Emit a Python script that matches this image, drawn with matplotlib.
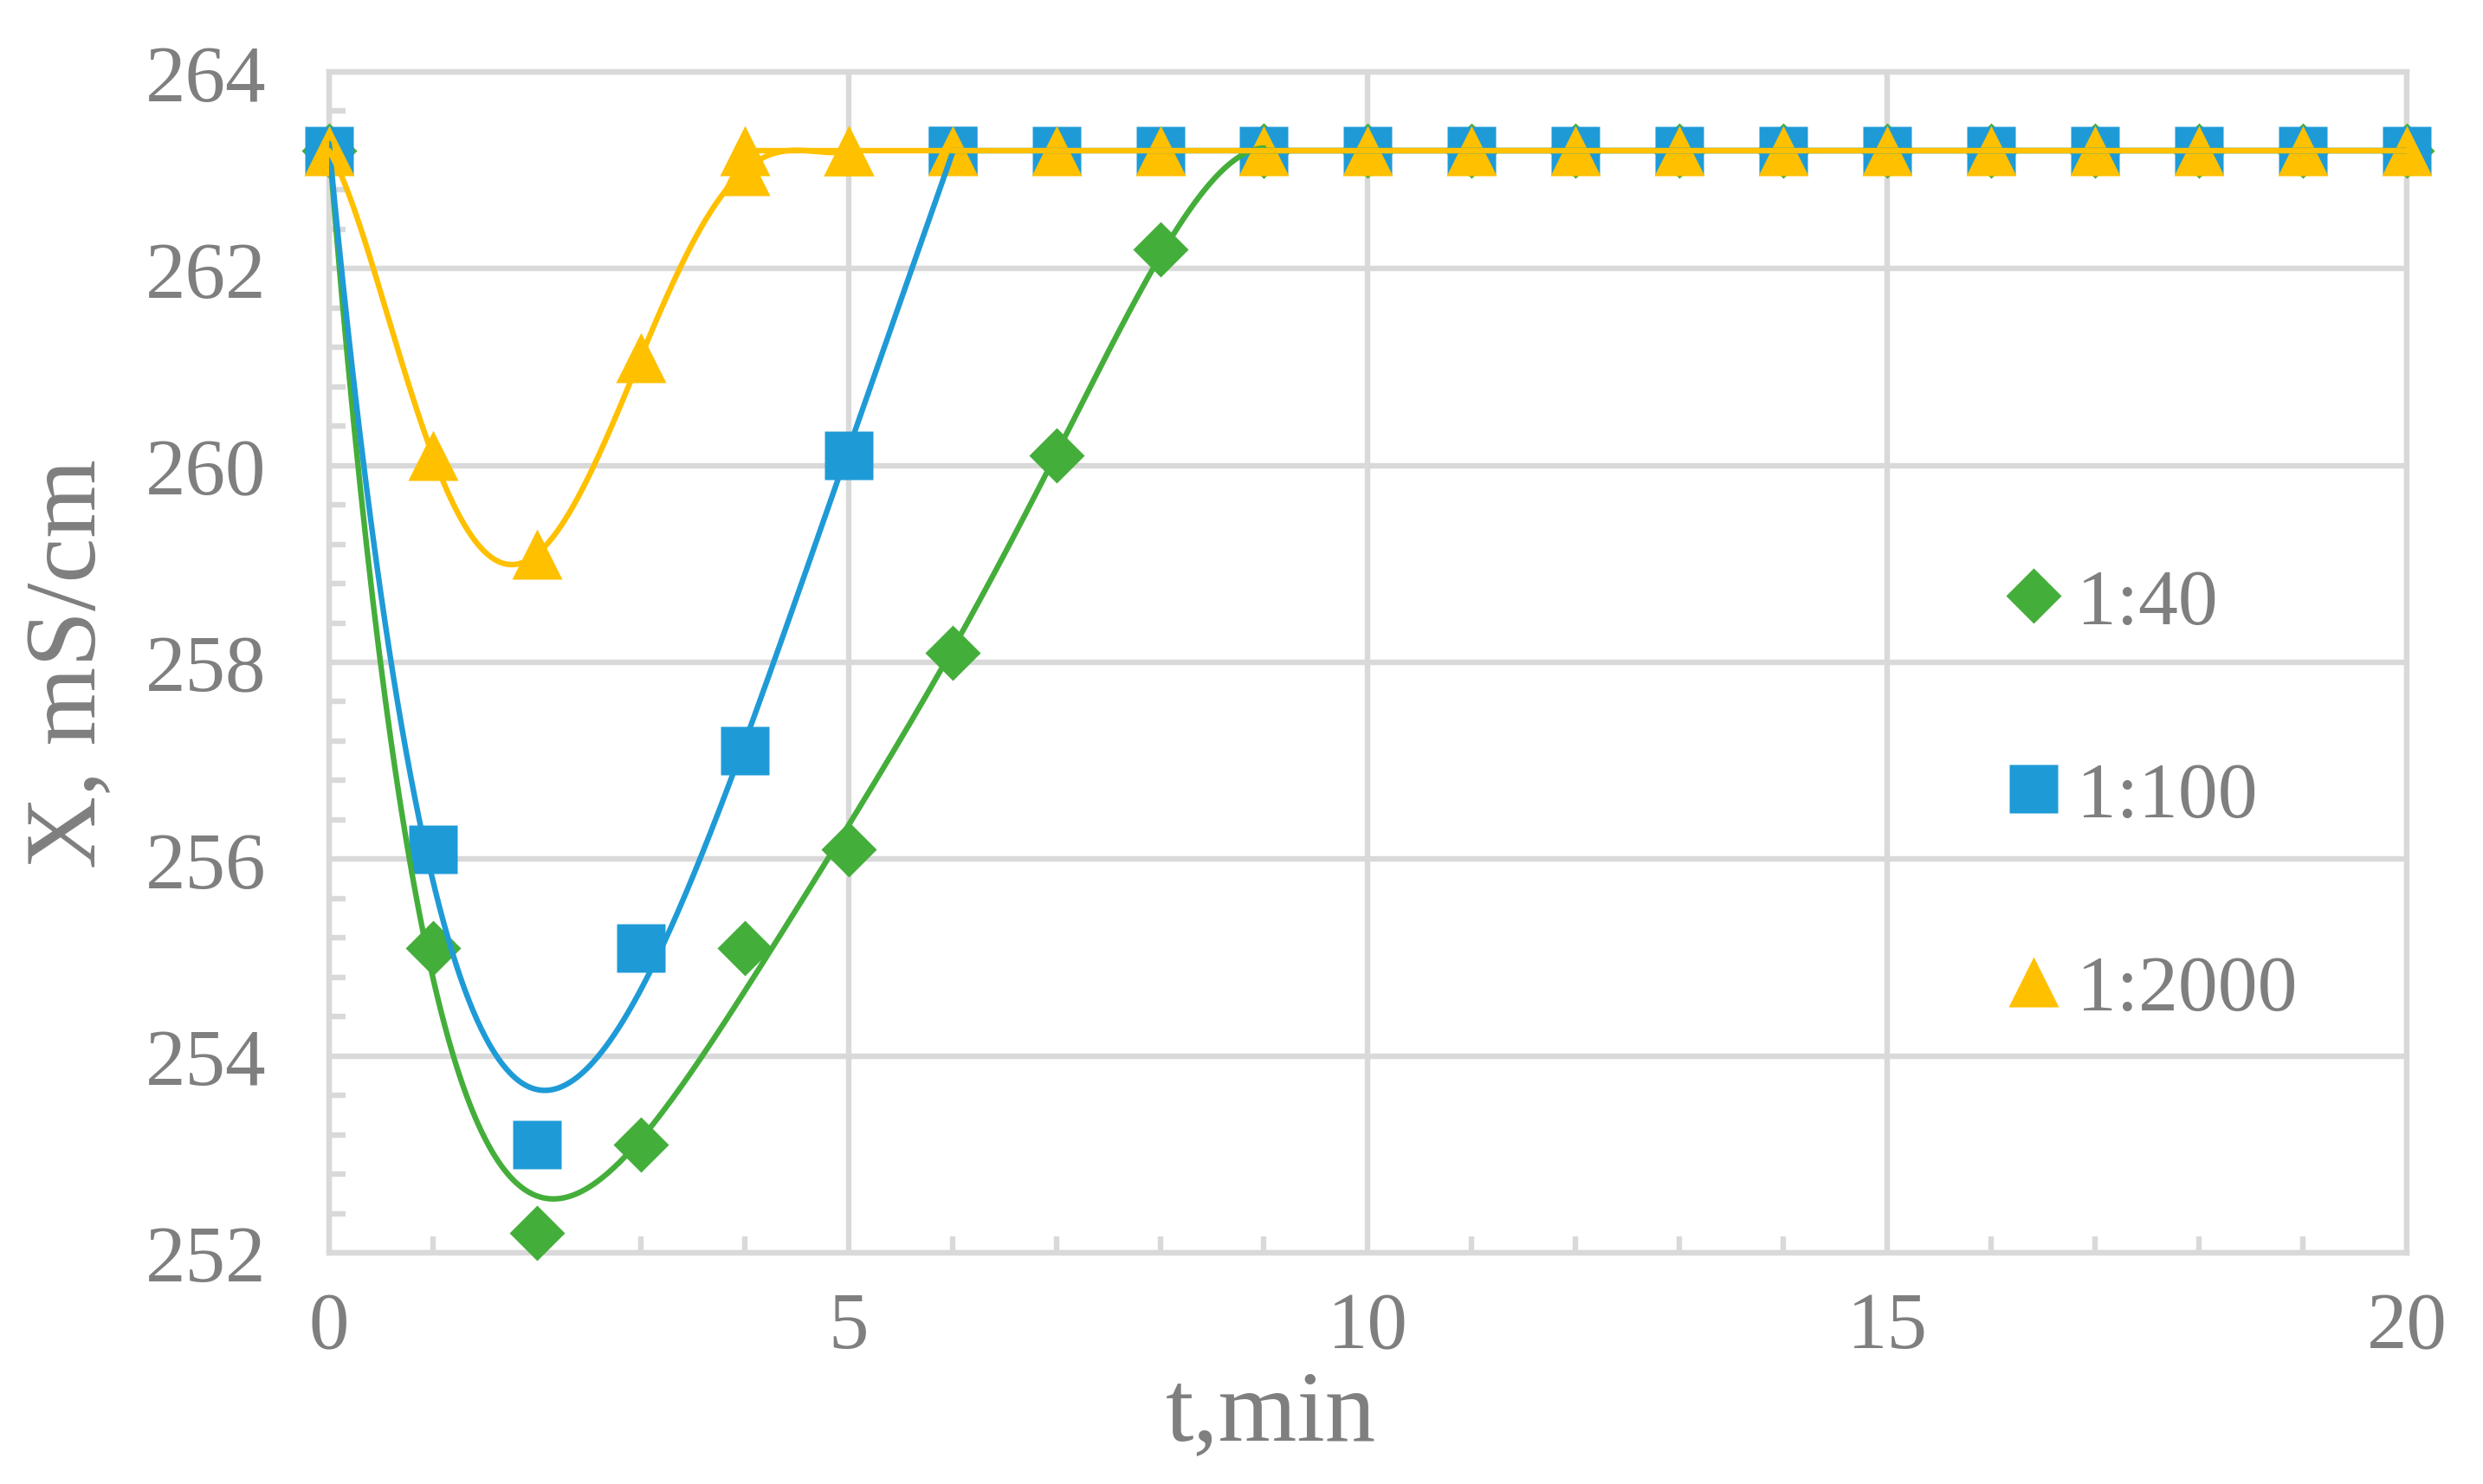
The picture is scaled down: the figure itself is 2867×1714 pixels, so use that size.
import numpy as np
import matplotlib.pyplot as plt
from matplotlib.lines import Line2D
from matplotlib.ticker import MultipleLocator

plt.rcParams['font.family'] = ['Liberation Serif', 'STIXGeneral', 'DejaVu Serif']

# measured points during the dip (t, min) and conductivity (mS/cm)
green_t = [0, 1, 2, 3, 4, 5, 6, 7, 8, 9]
green_x = [263.2, 255.1, 252.2, 253.1, 255.1, 256.1, 258.1, 260.1, 262.2, 263.2]
blue_t = [0, 1, 2, 3, 4, 5, 6]
blue_x = [263.2, 256.1, 253.1, 255.1, 257.1, 260.1, 263.2]
yellow_t = [0, 1, 2, 3, 4, 5]
yellow_x = [263.2, 260.1, 259.1, 261.1, 263.0, 263.2]

# plateau points after recovery
green_pt = [9, 10, 11, 12, 13, 14, 15, 16, 17, 18, 19, 20]
green_px = [263.2, 263.2, 263.2, 263.2, 263.2, 263.2, 263.2, 263.2, 263.2, 263.2, 263.2, 263.2]
blue_pt = [6, 7, 8, 9, 10, 11, 12, 13, 14, 15, 16, 17, 18, 19, 20]
blue_px = [263.2, 263.2, 263.2, 263.2, 263.2, 263.2, 263.2, 263.2, 263.2, 263.2, 263.2, 263.2, 263.2, 263.2, 263.2]
yellow_pt = [4, 5, 6, 7, 8, 9, 10, 11, 12, 13, 14, 15, 16, 17, 18, 19, 20]
yellow_px = [263.2, 263.2, 263.2, 263.2, 263.2, 263.2, 263.2, 263.2, 263.2, 263.2, 263.2, 263.2, 263.2, 263.2, 263.2, 263.2, 263.2]

labels = ['1:40', '1:100', '1:2000']
colors = ['#44AE3A', '#1E9BD7', '#FFC000']
markers = ['D', 's', '^']
msizes = [16.5, 20.5, 21]
degrees = [5, 4, 5]

grid_c = '#D9D9D9'
text_c = '#7F7F7F'

fig = plt.figure(figsize=(14.335, 8.575), dpi=200)
ax = fig.add_axes([0.1325, 0.1557, 0.9693 - 0.1325, 0.951 - 0.1557])

series = [(green_t, green_x, green_pt, green_px),
          (blue_t, blue_x, blue_pt, blue_px),
          (yellow_t, yellow_x, yellow_pt, yellow_px)]

# markers underneath
for i, (t, x, pt, px) in enumerate(series):
    ax.plot(t + pt, x + px, linestyle='none', marker=markers[i], ms=msizes[i],
            color=colors[i], mec='none', zorder=3 + i * 0.1, clip_on=False)

# trend curves and plateau lines on top
for i, (t, x, pt, px) in enumerate(series):
    coef = np.polyfit(t, x, degrees[i])
    tt = np.linspace(t[0], t[-1], 300)
    ax.plot(tt, np.polyval(coef, tt), color=colors[i], lw=2.3,
            solid_capstyle='round', zorder=5 + i * 0.1)
    ax.plot(pt, px, color=colors[i], lw=2.3, zorder=5 + i * 0.1)

ax.set_xlim(0, 20)
ax.set_ylim(252, 264)
ax.xaxis.set_major_locator(MultipleLocator(5))
ax.xaxis.set_minor_locator(MultipleLocator(1))
ax.yaxis.set_major_locator(MultipleLocator(2))
ax.yaxis.set_minor_locator(MultipleLocator(0.4))
ax.grid(True, which='major', color=grid_c, lw=2.3)
ax.set_axisbelow(True)
for s in ax.spines.values():
    s.set_color(grid_c)
    s.set_linewidth(2.3)

ax.tick_params(which='major', length=0, labelsize=33.5, labelcolor=text_c)
ax.tick_params(axis='x', which='major', pad=16)
ax.tick_params(axis='y', which='major', pad=26)
ax.tick_params(which='minor', direction='in', length=7, width=2.3, color=grid_c)
ax.tick_params(axis='x', which='minor', top=False)
ax.tick_params(axis='y', which='minor', right=False)

ax.set_xlabel('t,min', fontsize=42, color=text_c)
ax.xaxis.set_label_coords(0.4535, -0.098)
ax.set_ylabel('X, mS/cm', fontsize=42, color=text_c, labelpad=12)

handles = [Line2D([], [], linestyle='none', marker=markers[i], ms=msizes[i],
                  color=colors[i], mec='none') for i in range(3)]
ax.legend(handles, labels, loc='center left', bbox_to_anchor=(0.782, 0.386),
          frameon=False, fontsize=33, labelcolor=text_c, handlelength=1.0,
          handletextpad=0.05, labelspacing=1.53, borderpad=0)

fig.savefig('out.png', dpi=200)
